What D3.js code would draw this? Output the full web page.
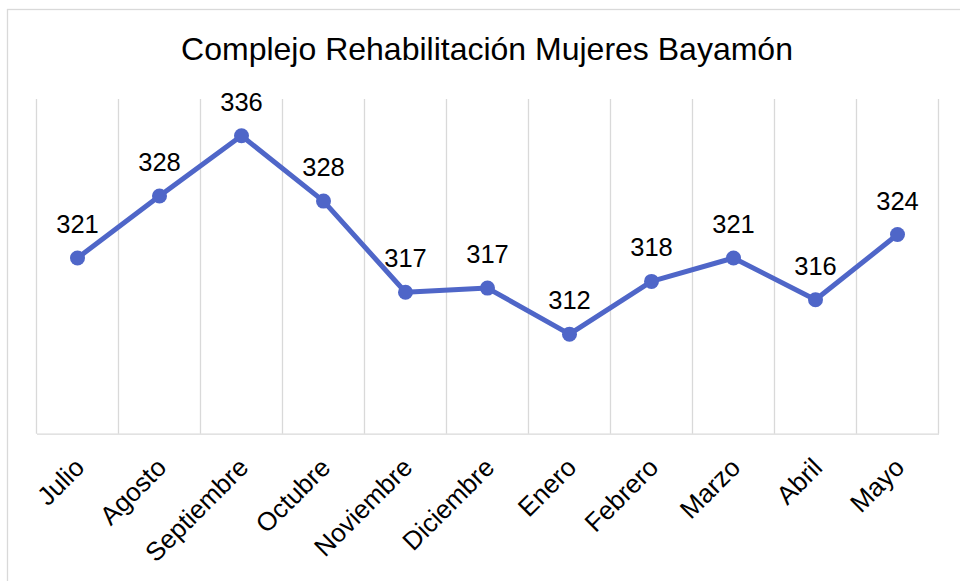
<!DOCTYPE html>
<html>
<head>
<meta charset="utf-8">
<script src="https://cdn.jsdelivr.net/npm/d3@7"></script>
<style>
  body { margin: 0; background: #fff; }
  text { font-family: "Liberation Sans", Arial, sans-serif; fill: #000; }
</style>
</head>
<body>
<div id="my_dataviz"></div>
<script>
// data
var months = ["Julio", "Agosto", "Septiembre", "Octubre", "Noviembre", "Diciembre",
              "Enero", "Febrero", "Marzo", "Abril", "Mayo"];
var values = [321.0, 328.4, 335.6, 327.8, 316.9, 317.4, 311.9, 318.2, 321.0, 316.0, 323.8];
var yDomain = [300, 340];
var title = "Complejo Rehabilitación Mujeres Bayamón";

// set the dimensions and margins of the graph
var W = 960, H = 581;
var margin = { top: 99, right: 21.5, bottom: 147.3, left: 36.5 },
    width = W - margin.left - margin.right,
    height = H - margin.top - margin.bottom;

var svg = d3.select("#my_dataviz")
    .append("svg")
    .attr("width", W)
    .attr("height", H);

// chart border (runs off the right and bottom edge)
svg.append("rect")
    .attr("x", 7.5).attr("y", 9.5)
    .attr("width", W + 20).attr("height", H + 20)
    .attr("fill", "#fff")
    .attr("stroke", "#d9d9d9")
    .attr("stroke-width", 1.3);

// title
svg.append("text")
    .attr("x", 487).attr("y", 60)
    .attr("text-anchor", "middle")
    .style("font-size", "32px")
    .text(title);

var g = svg.append("g")
    .attr("transform", "translate(" + margin.left + "," + margin.top + ")");

// scales
var x = d3.scaleBand().domain(months).range([0, width]);
var y = d3.scaleLinear().domain(yDomain).range([height, 0]);

// vertical gridlines between categories
var bounds = months.map(function (d) { return x(d); }).concat([width]);
g.selectAll("line.grid")
    .data(bounds)
    .enter()
    .append("line")
    .attr("class", "grid")
    .attr("x1", function (d) { return d; })
    .attr("x2", function (d) { return d; })
    .attr("y1", 0)
    .attr("y2", height)
    .attr("stroke", "#d9d9d9")
    .attr("stroke-width", 1.3);

// X axis
var xAxis = g.append("g")
    .attr("transform", "translate(0," + height + ")")
    .call(d3.axisBottom(x).tickSize(0).tickPadding(0));
xAxis.select(".domain")
    .attr("stroke", "#d9d9d9")
    .attr("stroke-width", 1.3);
xAxis.selectAll(".tick text")
    .style("font-size", "26px")
    .style("font-family", "'Liberation Sans', Arial, sans-serif")
    .attr("fill", "#000")
    .attr("text-anchor", "end")
    .attr("dy", "0.35em")
    .attr("transform", "translate(2,29) rotate(-45)");

var cx = function (d, i) { return x(months[i]) + x.bandwidth() / 2; };

// line
g.append("path")
    .datum(values)
    .attr("fill", "none")
    .attr("stroke", "#4f66c8")
    .attr("stroke-width", 5)
    .attr("stroke-linejoin", "round")
    .attr("d", d3.line()
        .x(cx)
        .y(function (d) { return y(d); }));

// markers
g.selectAll("circle.pt")
    .data(values)
    .enter()
    .append("circle")
    .attr("class", "pt")
    .attr("cx", cx)
    .attr("cy", function (d) { return y(d); })
    .attr("r", 7.5)
    .attr("fill", "#4f66c8");

// data labels
g.selectAll("text.lbl")
    .data(values)
    .enter()
    .append("text")
    .attr("class", "lbl")
    .attr("x", cx)
    .attr("y", function (d) { return y(d) - 25; })
    .attr("text-anchor", "middle")
    .style("font-size", "25.5px")
    .text(function (d) { return d3.format(".0f")(d); });
</script>
</body>
</html>
